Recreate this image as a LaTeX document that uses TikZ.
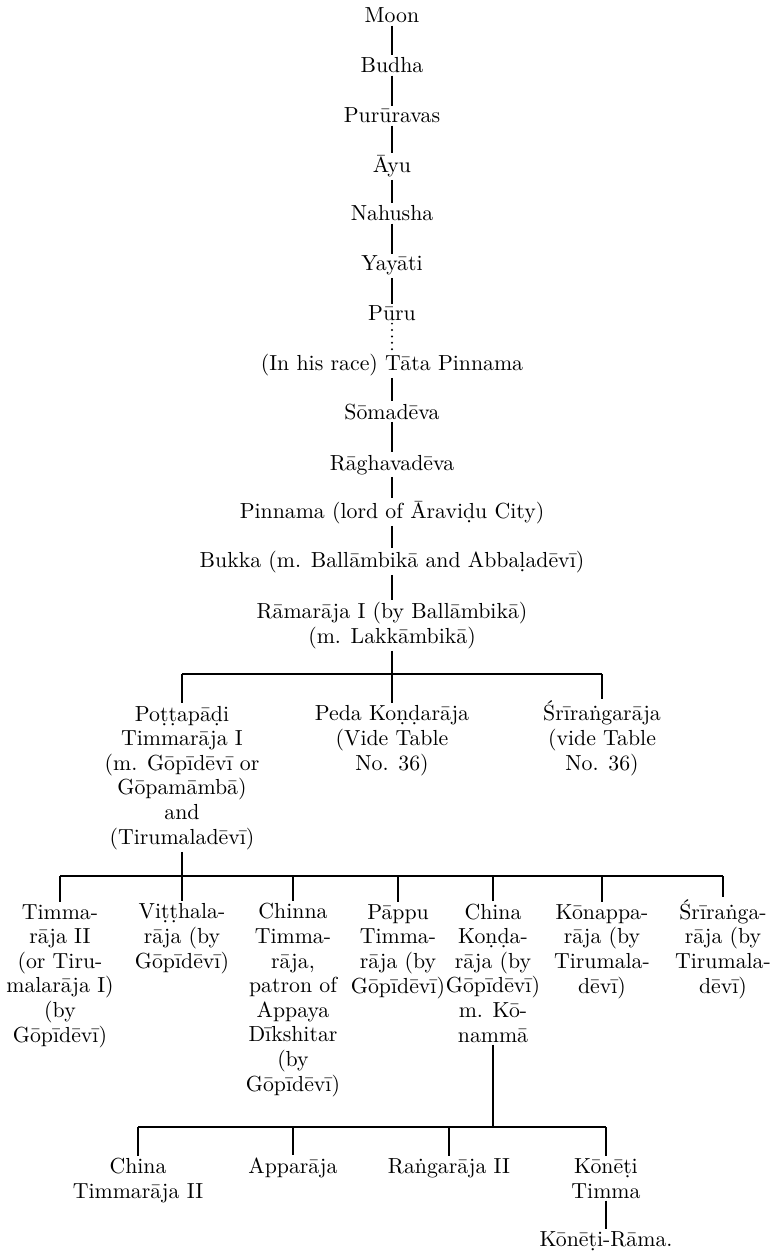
\documentclass[tikz,border=0pt]{standalone}
\newcommand\kinfont{\fontsize{10.9}{12.3}\selectfont\lineskiplimit=-20pt\relax}
\begin{document}
\begin{tikzpicture}[x=0.5pt,y=-0.5pt,
  person/.style={anchor=base, align=center, inner sep=1pt, font=\kinfont},
  kin/.style={line width=0.7pt},
  race/.style={line width=1.1pt, line cap=round, dash pattern=on 0pt off 3.2pt}]
\useasboundingbox (0,0) rectangle (782,1251);

\node[person] (moon) at (392,23) {Moon};
\node[person] (budha) at (392,73) {Budha};
\node[person] (pururavas) at (392,123) {Purūravas};
\node[person] (ayu) at (392,173) {Āyu};
\node[person] (nahusha) at (392,221) {Nahusha};
\node[person] (yayati) at (392,271) {Yayāti};
\node[person] (puru) at (392,321) {Pūru};
\node[person] (tata) at (392,370) {(In his race) Tāta Pinnama};
\node[person] (soma) at (392,419) {Sōmadēva};
\node[person] (raghava) at (392,470) {Rāghavadēva};
\node[person] (pinnama) at (392,518) {Pinnama (lord of Āraviḍu City)};
\node[person] (bukka) at (392,567) {Bukka (m. Ballāmbikā and Abbaḷadēvī)};
\node[person] (rama) at (392,643) {Rāmarāja I (by Ballāmbikā)\\(m. Lakkāmbikā)};

\draw[kin] (moon) -- (budha) -- (pururavas) -- (ayu) -- (nahusha) -- (yayati) -- (puru);
\draw[race] (puru) -- (tata);
\draw[kin] (tata) -- (soma) -- (raghava) -- (pinnama) -- (bukka) -- (rama);

\coordinate (bar1) at (392,674);
\node[person] (potta) at (182,844) {Poṭṭapāḍi\\Timmarāja I\\(m. Gōpīdēvī or\\Gōpamāmbā)\\and\\(Tirumaladēvī)};
\node[person] (peda) at (392,770) {Peda Koṇḍarāja\\(Vide Table\\No. 36)};
\node[person] (sriranga) at (602,770) {Śrīraṅgarāja\\(vide Table\\No. 36)};
\draw[kin] (rama) -- (bar1);
\draw[kin] (potta |- bar1) -- (sriranga |- bar1);
\foreach \c in {potta,peda,sriranga}
  \draw[kin] (\c |- bar1) -- (\c);

\coordinate (bar2) at (182,876);
\node[person] (timma) at (60,1042) {Timma-\\rāja II\\(or Tiru-\\malarāja I)\\(by\\Gōpīdēvī)};
\node[person] (vitthala) at (182,968) {Viṭṭhala-\\rāja (by\\Gōpīdēvī)};
\node[person] (chinna) at (293,1091) {Chinna\\Timma-\\rāja,\\patron of\\Appaya\\Dīkshitar\\(by\\Gōpīdēvī)};
\node[person] (pappu) at (398,993) {Pāppu\\Timma-\\rāja (by\\Gōpīdēvī)};
\node[person] (chinakonda) at (493,1042) {China\\Koṇḍa-\\rāja (by\\Gōpīdēvī)\\m. Kō-\\nammā};
\node[person] (konappa) at (602,993) {Kōnappa-\\rāja (by\\Tirumala-\\dēvī)};
\node[person] (srirangab) at (723,993) {Śrīraṅga-\\rāja (by\\Tirumala-\\dēvī)};
\draw[kin] (potta) -- (bar2);
\draw[kin] (timma |- bar2) -- (srirangab |- bar2);
\foreach \c in {timma,vitthala,chinna,pappu,chinakonda,konappa,srirangab}
  \draw[kin] (\c |- bar2) -- (\c);

\coordinate (bar3) at (493,1127);
\node[person] (chinatimma) at (138,1198) {China\\Timmarāja II};
\node[person] (apparaja) at (293,1173) {Apparāja};
\node[person] (rangaraja) at (449,1173) {Raṅgarāja II};
\node[person] (koneti) at (606,1198) {Kōnēṭi\\Timma};
\node[person] (konetirama) at (606,1246) {Kōnēṭi-Rāma.};
\draw[kin] (chinakonda) -- (bar3);
\draw[kin] (chinatimma |- bar3) -- (koneti |- bar3);
\foreach \c in {chinatimma,apparaja,rangaraja,koneti}
  \draw[kin] (\c |- bar3) -- (\c);
\draw[kin] (koneti) -- (konetirama);
\end{tikzpicture}
\end{document}
